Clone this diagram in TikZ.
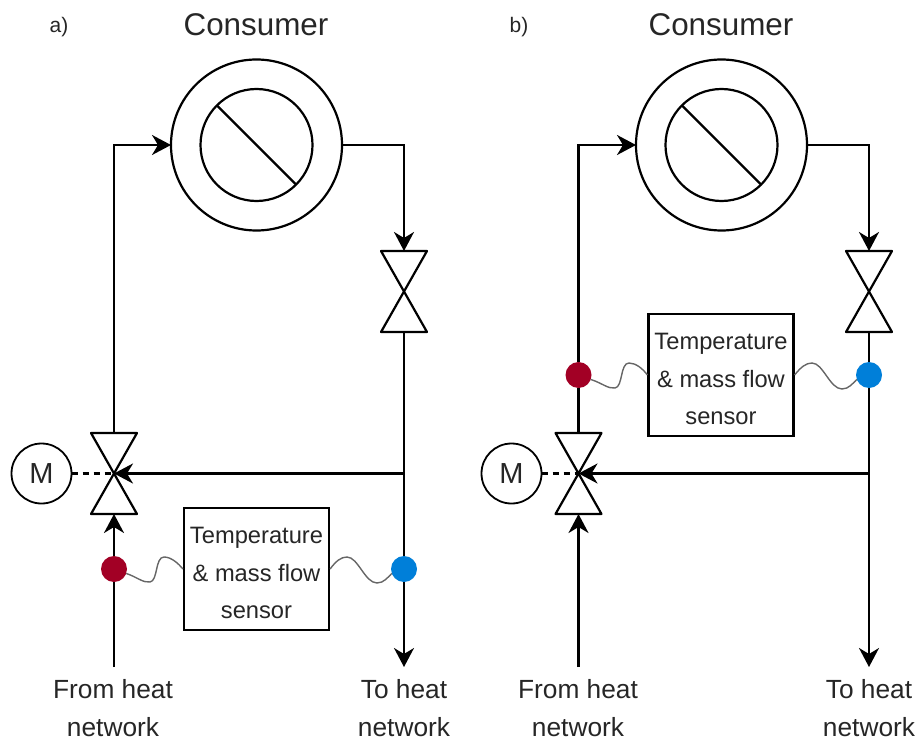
\documentclass[tikz,border=0pt]{standalone}
\usepackage{fontspec}
\setmainfont{Liberation Sans}
\usetikzlibrary{arrows.meta,calc}
\definecolor{hotc}{HTML}{A20025}
\definecolor{coldc}{HTML}{007FD9}
\definecolor{txtc}{HTML}{262626}
\tikzset{
  x=1pt,y=-1pt,
  pipe/.style={line width=2.2pt,black,line join=miter},
  arr/.style={pipe,-{Stealth[length=19pt,width=20pt,inset=6pt]}},
  dashline/.style={line width=2.2pt,black,dash pattern=on 6pt off 5pt},
  valve/.style={minimum width=46pt,minimum height=81pt,inner sep=0pt,outer sep=0pt,
    append after command={\pgfextra{\draw[line width=2.2pt,line join=round,fill=white]
      (\tikzlastnode.north west) -- (\tikzlastnode.north east) -- (\tikzlastnode.south west) -- (\tikzlastnode.south east) -- cycle;}}},
  ring/.style={circle,draw,line width=2.2pt,inner sep=0pt,outer sep=0pt,fill=white},
  motor/.style={circle,draw,line width=1.8pt,minimum size=60pt,inner sep=0pt,outer sep=0pt,font=\fontsize{29}{29}\selectfont,text=txtc},
  dot/.style={circle,minimum size=26pt,inner sep=0pt,outer sep=0pt},
  sensorbox/.style={draw,line width=2.2pt,fill=white,minimum width=145pt,minimum height=122pt,inner sep=0pt,align=center,text=txtc,
    font=\fontsize{23.7}{37.5}\selectfont},
  caption/.style={align=center,text=txtc,font=\fontsize{26.3}{38}\selectfont},
  title/.style={text=txtc,font=\fontsize{31.4}{31}\selectfont},
  tag/.style={text=txtc,font=\fontsize{21}{21}\selectfont},
  wire/.style={line width=1.4pt,black!60},
  sensortext/.style={text=txtc,align=center,font=\fontsize{23.7}{37.5}\selectfont},
}
\begin{document}
\begin{tikzpicture}
\useasboundingbox (0,0) rectangle (921,741);
%------------ panel a
\begin{scope}[name prefix=a-]
\node[tag] (tag) at (59,27) {a)};
\node[title] (title) at (256,25) {Consumer};
\node[ring,minimum size=171pt] (outer) at (256.5,145) {};
\node[ring,minimum size=112pt] (inner) at (256.5,145) {};
\draw[pipe] (inner.135) -- (inner.-45);
\node[valve] (rv) at (404,291.5) {};
\node[valve] (mv) at (114,473.5) {};
\node[motor] (m) at (41.5,473.5) {M};
\coordinate (src) at (114,667);
\coordinate (snk) at (404,667);
\coordinate (tee) at (404,473.5);
\node[dot,fill=hotc] (hot) at (114,569) {};
\node[dot,fill=coldc] (cold) at (404,569) {};
\node[sensorbox] (s) at (256.5,569) {};
\node[sensortext] (stext) at (256.5,573) {Temperature\\\& mass flow\\sensor};
\node[caption] (from) at (113,708) {From heat\\network};
\node[caption] (to) at (404,708) {To heat\\network};
\draw[arr] (mv.north) |- (outer.west);
\draw[arr] (outer.east) -| (rv.north);
\draw[pipe] (rv.south) -- (cold.north);
\draw[arr] (cold.south) -- (snk);
\draw[arr] (tee) -- (mv.center);
\draw[pipe] (src) -- (hot.south);
\draw[arr] (hot.north) -- (mv.south);
\draw[dashline] (m.east) -- (mv.center);
\draw[wire] (hot.-20) .. controls (137,577) and (143,583) .. (150,582) .. controls (158,581) and (155,557) .. (164,557) .. controls (171,557) and (178,563) .. (s.west);
\draw[wire] (s.east) .. controls (336,561) and (341,557) .. (347,557) .. controls (358,557) and (365,583) .. (377,583) .. controls (384,583) and (388,577) .. (cold.200);
\end{scope}
%------------ panel b
\begin{scope}[name prefix=b-]
\node[tag] (tag) at (519,27) {b)};
\node[title] (title) at (721,25) {Consumer};
\node[ring,minimum size=171pt] (outer) at (721.5,145) {};
\node[ring,minimum size=112pt] (inner) at (721.5,145) {};
\draw[pipe] (inner.135) -- (inner.-45);
\node[valve] (rv) at (869,291.5) {};
\node[valve] (mv) at (578.5,473.5) {};
\node[motor] (m) at (511.5,473.5) {M};
\coordinate (src) at (578.5,667);
\coordinate (snk) at (869,667);
\coordinate (tee) at (869,473.5);
\node[dot,fill=hotc] (hot) at (578.5,375) {};
\node[dot,fill=coldc] (cold) at (869,375) {};
\node[sensorbox] (s) at (721,375) {};
\node[sensortext] (stext) at (721,379) {Temperature\\\& mass flow\\sensor};
\node[caption] (from) at (578,708) {From heat\\network};
\node[caption] (to) at (869,708) {To heat\\network};
\draw[arr] (hot.north) |- (outer.west);
\draw[pipe] (mv.north) -- (hot.south);
\draw[arr] (outer.east) -| (rv.north);
\draw[pipe] (rv.south) -- (cold.north);
\draw[arr] (cold.south) -- (snk);
\draw[arr] (tee) -- (mv.center);
\draw[arr] (src) -- (mv.south);
\draw[dashline] (m.east) -- (mv.center);
\draw[wire] (hot.-20) .. controls (602,383) and (608,389) .. (615,388) .. controls (623,387) and (620,363) .. (629,363) .. controls (636,363) and (643,369) .. (s.west);
\draw[wire] (s.east) .. controls (801,367) and (806,363) .. (812,363) .. controls (823,363) and (830,389) .. (842,389) .. controls (849,389) and (853,383) .. (cold.200);
\end{scope}
\end{tikzpicture}
\end{document}
